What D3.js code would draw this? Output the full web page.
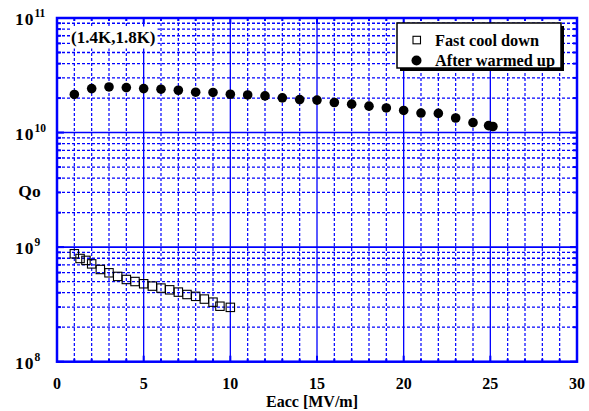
<!DOCTYPE html>
<html>
<head>
<meta charset="utf-8">
<script src="https://cdn.jsdelivr.net/npm/d3@7"></script>
<style>
  html, body { margin: 0; padding: 0; background: #fff; }
  svg { display: block; }
  text { font-family: "Liberation Serif", "Times New Roman", serif; font-weight: bold; fill: #000; }
</style>
</head>
<body>
<svg id="chart" width="589" height="411"></svg>
<script>
// Fast cool down (open squares)
const fastE = [1, 1.33, 1.67, 2, 2.5, 3, 3.5, 4, 4.5, 5, 5.5, 6, 6.5, 7, 7.5, 8, 8.5, 9, 9.4, 10];
const fastQ = [8.75e8, 7.96e8, 7.66e8, 7.14e8, 6.38e8, 5.97e8, 5.55e8, 5.22e8, 5.01e8, 4.79e8,
               4.57e8, 4.39e8, 4.24e8, 4.05e8, 3.86e8, 3.72e8, 3.52e8, 3.31e8, 3.05e8, 2.98e8];

// After warmed up (filled circles)
const warmE = [1, 2, 3, 4, 5, 6, 7, 8, 9, 10, 11, 12, 13, 14, 15, 16, 17, 18, 19, 20, 21, 22, 23, 24, 24.9, 25.15];
const warmQ = [2.15e10, 2.42e10, 2.50e10, 2.47e10, 2.42e10, 2.39e10, 2.34e10, 2.25e10, 2.24e10, 2.16e10,
               2.13e10, 2.09e10, 2.01e10, 1.94e10, 1.92e10, 1.83e10, 1.77e10, 1.70e10, 1.64e10, 1.56e10,
               1.48e10, 1.47e10, 1.34e10, 1.22e10, 1.15e10, 1.13e10];

const xTicks = [0, 5, 10, 15, 20, 25, 30];
const yDecades = [8, 9, 10, 11];
const legendLabels = ["Fast cool down", "After warmed up"];
const noteText = "(1.4K,1.8K)";
const xTitle = "Eacc [MV/m]";
const yTitle = "Qo";

const svg = d3.select("#chart");
const L = 57, R = 577, T = 18, B = 361.7;
const blue = "#0000ff";

const x = d3.scaleLinear().domain([0, 30]).range([L, R]);
const y = d3.scaleLog().domain([1e8, 1e11]).range([B, T]);

// grid
const grid = svg.append("g");
const minorY = [];
yDecades.slice(0, -1).forEach(d => { for (let m = 2; m <= 9; m++) minorY.push(m * Math.pow(10, d)); });
grid.selectAll(".hminor").data(minorY).join("line")
  .attr("x1", L).attr("x2", R).attr("y1", d => y(d)).attr("y2", d => y(d))
  .attr("stroke", blue).attr("stroke-width", 1.3).attr("stroke-dasharray", "3,2");
grid.selectAll(".vminor").data(d3.range(1, 30).filter(v => v % 5 !== 0)).join("line")
  .attr("x1", d => x(d)).attr("x2", d => x(d)).attr("y1", T).attr("y2", B)
  .attr("stroke", blue).attr("stroke-width", 1.2).attr("stroke-dasharray", "3,2");
grid.selectAll(".hmajor").data(yDecades.map(d => Math.pow(10, d))).join("line")
  .attr("x1", L).attr("x2", R).attr("y1", d => y(d)).attr("y2", d => y(d))
  .attr("stroke", blue).attr("stroke-width", 1.6);
grid.selectAll(".vmajor").data(xTicks).join("line")
  .attr("x1", d => x(d)).attr("x2", d => x(d)).attr("y1", T).attr("y2", B)
  .attr("stroke", blue).attr("stroke-width", 1.3);

// inward ticks on the frame
const ticks = svg.append("g").attr("stroke", blue);
const yTickVals = yDecades.map(d => Math.pow(10, d)).concat(minorY);
yTickVals.forEach(v => {
  const len = Number.isInteger(Math.log10(v)) ? 7 : 4;
  ticks.append("line").attr("x1", L).attr("x2", L + len).attr("y1", y(v)).attr("y2", y(v)).attr("stroke-width", 2);
  ticks.append("line").attr("x1", R).attr("x2", R - len).attr("y1", y(v)).attr("y2", y(v)).attr("stroke-width", 2);
});
d3.range(0, 31).forEach(v => {
  const len = v % 5 === 0 ? 6 : 3;
  ticks.append("line").attr("x1", x(v)).attr("x2", x(v)).attr("y1", B).attr("y2", B - len).attr("stroke-width", 2);
  ticks.append("line").attr("x1", x(v)).attr("x2", x(v)).attr("y1", T).attr("y2", T + len).attr("stroke-width", 2);
});

// frame
svg.append("rect").attr("x", L).attr("y", T).attr("width", R - L).attr("height", B - T)
  .attr("fill", "none").attr("stroke", blue).attr("stroke-width", 2.5);

// temperature note with white background
const note = svg.append("g");
const noteBg = note.append("rect").attr("fill", "#fff");
const noteT = note.append("text").attr("x", 71).attr("y", 42.5).attr("font-size", 17).text(noteText);
const nb = noteT.node().getBBox();
noteBg.attr("x", nb.x - 1).attr("y", nb.y - 1).attr("width", nb.width + 3).attr("height", nb.height + 3);

// series
svg.append("g").selectAll("rect").data(fastE.map((e, i) => [e, fastQ[i]])).join("rect")
  .attr("x", d => x(d[0]) - 4.2).attr("y", d => y(d[1]) - 4.2)
  .attr("width", 8.4).attr("height", 8.4)
  .attr("fill", "none").attr("stroke", "#000").attr("stroke-width", 1.1);
svg.append("g").selectAll("circle").data(warmE.map((e, i) => [e, warmQ[i]])).join("circle")
  .attr("cx", d => x(d[0])).attr("cy", d => y(d[1])).attr("r", 4.8).attr("fill", "#000");

// legend
const lg = svg.append("g");
lg.append("rect").attr("x", 400).attr("y", 26).attr("width", 164).attr("height", 45).attr("fill", "#000");
lg.append("rect").attr("x", 397).attr("y", 23).attr("width", 164).attr("height", 45)
  .attr("fill", "#fff").attr("stroke", "#000").attr("stroke-width", 1.5);
lg.append("rect").attr("x", 413).attr("y", 36.3).attr("width", 7.5).attr("height", 7.5)
  .attr("fill", "none").attr("stroke", "#000").attr("stroke-width", 1.1);
lg.append("circle").attr("cx", 416.5).attr("cy", 60.5).attr("r", 5).attr("fill", "#000");
lg.selectAll("text").data(legendLabels).join("text")
  .attr("x", 435).attr("y", (d, i) => 45.5 + i * 20).attr("font-size", 16.3).text(d => d);

// x tick labels
svg.append("g").selectAll("text").data(xTicks).join("text")
  .attr("x", d => x(d)).attr("y", 388.5).attr("text-anchor", "middle").attr("font-size", 16)
  .text(d => d);

// y tick labels (10 with superscript exponent)
const yl = svg.append("g").selectAll("text").data(yDecades).join("text")
  .attr("x", 15).attr("y", d => y(Math.pow(10, d)) + 7)
  .attr("font-size", 17.5).attr("letter-spacing", 1);
yl.append("tspan").text("10");
yl.append("tspan").attr("dy", -8).attr("font-size", 11.5).attr("letter-spacing", 0).text(d => d);

// axis titles
svg.append("text").attr("x", 312).attr("y", 407).attr("text-anchor", "middle").attr("font-size", 16).text(xTitle);
svg.append("text").attr("x", 29.5).attr("y", 196.5).attr("text-anchor", "middle").attr("font-size", 17.5).text(yTitle);
</script>
</body>
</html>
